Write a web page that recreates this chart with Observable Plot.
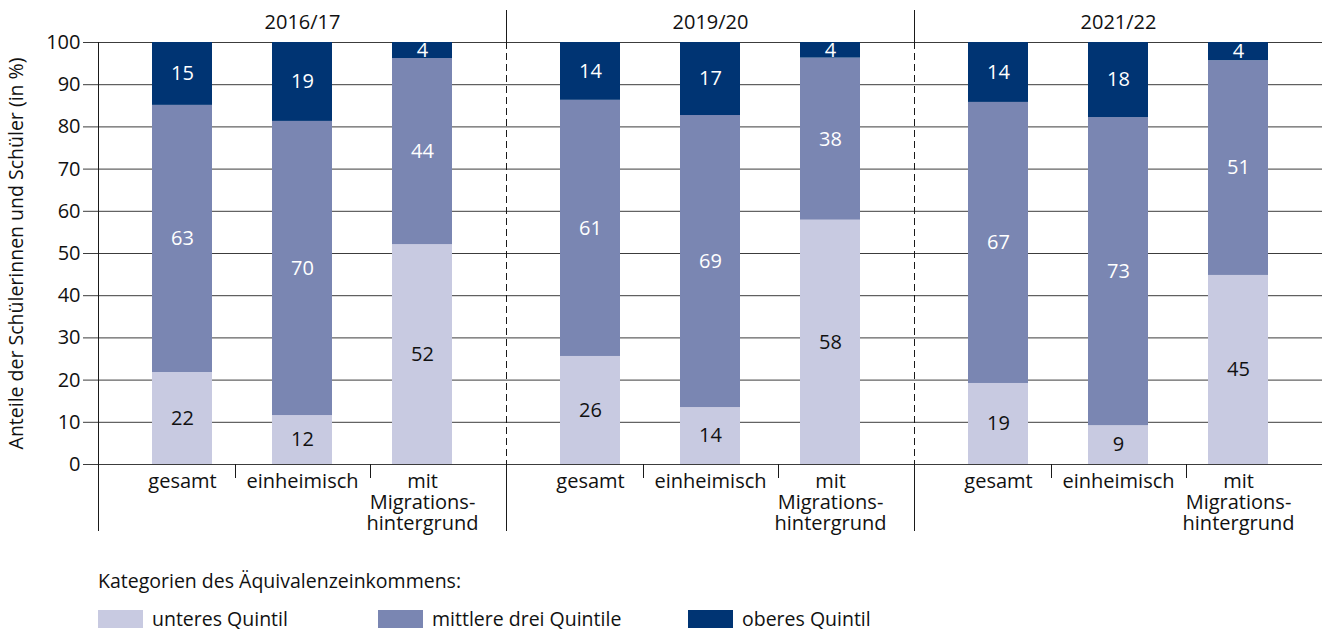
<!DOCTYPE html>
<html><head><meta charset="utf-8">
<script src="https://cdn.jsdelivr.net/npm/d3@7"></script>
<script src="https://cdn.jsdelivr.net/npm/@observablehq/plot@0.6"></script>
<style>
body{margin:0;background:#fff;font-family:"Open Sans", sans-serif;color:#111;}
#legend-title{margin:29px 0 0 98px;font-size:19.5px;line-height:24px;}
#legend{display:flex;margin:14px 0 0 98px;font-size:19.5px;line-height:24px;}
.item{display:flex;align-items:center;}
.sw{width:45px;height:18px;margin-right:9px;}
</style></head><body>
<div id="chart"></div>
<div id="legend-title">Kategorien des Äquivalenzeinkommens:</div>
<div id="legend"></div>
<script>
const years = ["2016/17", "2019/20", "2021/22"];
const groups = ["gesamt", "einheimisch", "mit Migrationshintergrund"];
const groupLabels = ["gesamt", "einheimisch", "mit\nMigrations-\nhintergrund"];
const quintiles = ["unteres Quintil", "mittlere drei Quintile", "oberes Quintil"];
const colors = ["#c8cae1", "#7a86b2", "#003473"];
// shares in %, order: year x group
const unteres  = [21.8, 11.6, 52.1, 25.6, 13.5, 57.9, 19.2, 9.2, 44.8];
const mittlere = [63.3, 69.7, 44.1, 60.7, 69.2, 38.4, 66.6, 73.0, 50.9];
const oberes   = [14.9, 18.7, 3.8, 13.7, 17.3, 3.7, 14.2, 17.8, 4.3];
const yTicks = [0, 10, 20, 30, 40, 50, 60, 70, 80, 90, 100];
const yLabel = "Anteile der Schülerinnen und Schüler (in %)";

const series = [unteres, mittlere, oberes];
const rows = [];
years.forEach((year, i) => groups.forEach((group, j) => quintiles.forEach((q, k) => {
  rows.push({year, group, quintile: q, value: series[k][i * 3 + j]});
})));

const W = 1322, H = 540, mT = 42, mB = 76, mL = 98, mR = 0;
const plotH = H - mT - mB;
const lineColor = "#1a1a1a";
const gridColor = "#3c3c3c";

const sepMarks = [];
years.slice(1).forEach(y => {
  sepMarks.push(Plot.frame({anchor: "left", fx: () => y, stroke: lineColor, strokeDasharray: "6,5"}));
  sepMarks.push(Plot.frame({anchor: "left", fx: () => y, stroke: lineColor, insetTop: -32, insetBottom: plotH}));
  sepMarks.push(Plot.frame({anchor: "left", fx: () => y, stroke: lineColor, insetTop: plotH, insetBottom: -66}));
});
const tickRows = years.map(year => ({year}));

const labelOpts = {x: "group", y: "value", z: "quintile", fx: "year", text: d => Math.round(d.value), fontSize: 20};

const chart = Plot.plot({
  width: W, height: H,
  marginTop: mT, marginBottom: mB, marginLeft: mL, marginRight: mR,
  style: {fontFamily: "'Open Sans', sans-serif", fontSize: "20px", color: "#111", background: "#fff"},
  fx: {domain: years, padding: 0},
  x: {domain: groups, paddingInner: 0.496, paddingOuter: 0.434},
  y: {domain: [0, 100]},
  color: {domain: quintiles, range: colors},
  marks: [
    Plot.gridY(yTicks, {stroke: gridColor, strokeOpacity: 1}),
    Plot.barY(rows, {x: "group", y: "value", fill: "quintile", fx: "year"}),
    Plot.text(rows, Plot.filter(d => d.quintile === quintiles[0], Plot.stackY({...labelOpts, fill: "#111"}))),
    Plot.text(rows, Plot.filter(d => d.quintile !== quintiles[0], Plot.stackY({...labelOpts, fill: "#fff"}))),
    Plot.axisY(yTicks, {tickSize: 15, tickPadding: 3, stroke: gridColor, label: null, fontSize: 20}),
    Plot.axisY({ticks: [], tickSize: 0, label: yLabel, labelAnchor: "center", labelOffset: 89, labelArrow: false, fontSize: 19.5}),
    Plot.axisX({tickSize: 0, tickPadding: 8, label: null, tickFormat: d => groupLabels[groups.indexOf(d)], lineHeight: 1.06, fontSize: 20}),
    Plot.axisFx({anchor: "top", tickSize: 0, tickPadding: 14, label: null, fontSize: 20}),
    Plot.frame({anchor: "left", fx: () => years[0], stroke: lineColor, insetBottom: -66}),
    ...sepMarks,
    Plot.tickX(tickRows, {x: () => groups[1], fx: "year", stroke: lineColor, insetTop: plotH, insetBottom: -14, dx: -67}),
    Plot.tickX(tickRows, {x: () => groups[2], fx: "year", stroke: lineColor, insetTop: plotH, insetBottom: -14, dx: -52})
  ]
});
document.getElementById("chart").appendChild(chart);

const legend = document.getElementById("legend");
const itemWidths = [280, 310, 200];
quintiles.forEach((q, i) => {
  const it = document.createElement("div");
  it.className = "item";
  it.style.width = itemWidths[i] + "px";
  const sw = document.createElement("span");
  sw.className = "sw";
  sw.style.background = colors[i];
  const t = document.createElement("span");
  t.textContent = q;
  it.appendChild(sw); it.appendChild(t);
  legend.appendChild(it);
});
</script>
</body></html>
